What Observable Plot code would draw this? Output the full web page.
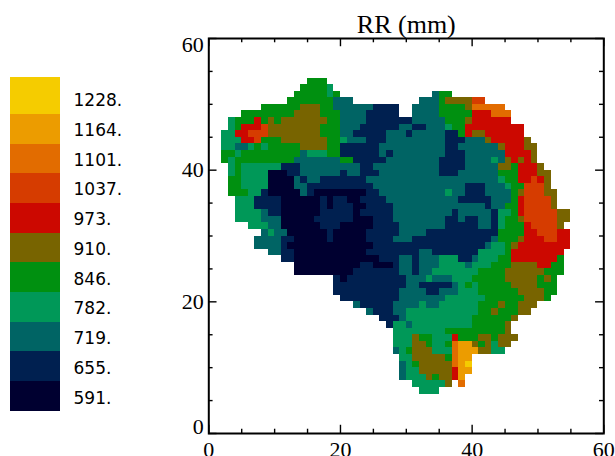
<!DOCTYPE html>
<html>
<head>
<meta charset="utf-8">
<script src="https://cdn.jsdelivr.net/npm/d3@7"></script>
<script src="https://cdn.jsdelivr.net/npm/@observablehq/plot@0.6"></script>
<style>
html,body{margin:0;padding:0;background:#fff;overflow:hidden}
#wrap{position:relative;width:615px;height:456px;overflow:hidden}
#wrap svg{position:absolute;left:0;top:0;background:transparent;max-width:none}
</style>
</head>
<body>
<div id="wrap"></div>
<script>
const title = "RR (mm)";
const levels = [591,655,719,782,846,910,973,1037,1101,1164,1228];
const levelTop = 1307;
const levelCodes = ["a","b","c","d","e","f","g","h","i","j","k"];
const colors = ["#000030","#002050","#006464","#009858","#009010","#786400","#cc0800","#d63c00","#e26c00","#ec9c00","#f5cc00"];
const majorTicks = [0,20,40,60];
const minorTicks = [5,10,15,25,30,35,45,50,55];
// one line per grid row, top to bottom: level code + first-last column
const rowNumbers = [53,52,51,50,49,48,47,46,45,44,43,42,41,40,39,38,37,36,35,34,33,32,31,30,29,28,27,26,25,24,23,22,21,20,19,18,17,16,15,14,13,12,11,10,9,8,7,6];
const rowRuns = [
"e15-17",
"e14-17 d18",
"e13-17 d18 e19 c34 e35-36",
"e12-18 c19-21 c32-34 e35 f36-39 h40-41",
"e8-13 f14-16 e17-18 c19-24 b25-28 c31-34 e35-38 f39 i40-44",
"e5-12 f13-16 e17-19 c20-23 b24-28 c31-34 e35-39 g40-42 i43-45",
"d3 e4-6 g7 e8 f9 e10 f11-17 e18-19 c20-23 b24-30 c31-35 e36-38 f39 g40-45",
"d3 e4 g5-7 h8 f9-16 e17-19 c20-22 b23-28 c29-30 b31-32 c33-35 d36 e37-38 g39-47",
"d2-3 g4-5 h6-8 f9-16 e17-19 c20-21 b22-26 c27-29 b30 c31-35 b36-37 e38 g39 f40-41 g42-47",
"d2-4 g5-6 h7 e8-10 f11-17 e18-19 d20 c21-23 b24-26 c27-35 b36-38 c39-41 f42 g43-47 f48",
"d2-3 c4-5 d6 e7 d8 e9-13 f14-17 e18-19 b20-25 c26-35 b36-37 c38-43 f44 g45-47 f48-49",
"e2-3 d4 e5-13 c14 d15-17 e18-19 b20-25 c26 b27 c28-35 b36-38 c39-44 g45-48 f49",
"e2 d3 e4-12 c13-19 e20-21 b22-26 c27-34 b35-38 c39-42 d43 c44 f45 g46 f47 g48 f49",
"d3 e4 d5-10 b11-13 c14-22 b23-24 c25-34 b35-38 c39-43 f44-45 e46 g47-49 f50",
"d3 e4 d5-8 a9-11 b12-13 c14-19 b20 c21-22 b23-25 c26-34 b35-37 c38-43 e44-46 g47-49 f50-51",
"e3-4 d5-8 a9-12 c13 b14 c15-16 b17-23 c24-43 d44 e45-46 g47-48 h49 g50 f51",
"e3-4 d5-8 a9-12 c13-14 b15-24 c25-38 b39-41 c42-44 d45 e46-47 h48-50 f51",
"e3-5 d6-7 b8 a9-13 c14 b15 a16-23 b24-25 c26-35 d36 c37-38 b39-41 c42-45 e46 f47 h48-50 f51-52",
"d4-6 b7-10 a11-16 b17 a18 b19-20 a21-22 b23-26 c27-37 b38-42 c43-45 e46 g47 h48-51 f52",
"d4-6 b7-10 a11-16 b17 a18 b19-21 a22-23 b24-27 c28-41 b42 c43-44 e45-46 g47 h48-51 f52",
"d4-7 c8 b9-10 a11-16 b17-21 a22 b23-27 c28-36 b37 c38-42 b43 d44-45 e46 g47 h48-52 f53-54",
"d4-7 c8-10 a11-15 b16-21 a22-24 b25-27 c28-35 b36-37 c38 b39-40 c41-42 b43 d44 e45-46 f47 h48-52 f53-54",
"d6-8 c9-10 a11-16 b17-19 a20-24 b25-28 c29-35 b36-40 c41-42 b43 d44 e45-47 g48 h49-52 f53",
"c8 d9 c10-11 a12-17 b18 a19-23 b24-28 c29-32 b33-43 e44-47 g48-49 h50-52 g53-54",
"c7-10 b11-12 a13-17 b18 a19-23 b24-27 c28-30 b31-42 c43 e44-46 f47 g48-50 h51-52 g53-54",
"c7-10 b11 a12-24 b25-41 c42 d43-44 e45 f46 g47-54",
"c9-10 b11-12 a13-23 b24-31 c32-33 b34-40 d41-44 e45 g46-53",
"b11-12 a13-25 b26-28 c29-30 b31 c32-34 d35-37 b38-39 c40 d41-43 e44-45 g46-52 e53",
"a13-22 b23-24 a25-27 b28 c29-30 b31 c32-34 d35-38 c39 d40-42 e43-45 f46-49 g50-51 e52-53",
"a13-21 b22-28 c29-30 b31 c32-33 d34-40 e41-44 f45-50 e51-53",
"b19 a20 b21-29 c30-32 d33 c34-36 d37-39 e40-44 f45-49 e50 f51 e52",
"b19-29 c30-31 b32-36 c37 d38 e39 d40 e41-45 f46-49 e50-52",
"b19-28 c29-32 b33-34 c35-37 d38-40 e41-46 f47-50 e51-52",
"b20-28 c29-35 d36-41 e42-47 f48-50 e51",
"c22 b23-27 c28-31 d32 c33-34 d35-40 e41-43 f44 e45-46 f47-49",
"c24 b25-27 c28-29 d30-40 e41-42 f43 e44-46 f47-48",
"b26-28 c29 d30-39 e40-45 f46",
"b27 d28-29 c30 d31-39 e40-44 f45",
"d28-35 e36-44 f45",
"d28-30 f31 e32-33 d34-36 g37 e38-40 f41-42 e43 f44-46",
"d28-30 f31-32 e33 d34-35 e36 i37 j38-39 f40 e41 f42 d43 f44-45",
"c28 d29 e30 f31-33 d34-36 i37 j38-40 f41-42 d43-44",
"d29-30 f31-35 e36 i37 j38-39",
"c29 d30 e31 f32-36 i37 j38 k39",
"c29 d30-31 f32-36 g37 j38-39",
"c29 d30-32 f33 e34 f35-36 g37 j38",
"d31-35 f36 i38",
"d32-34"
];

const cells = [];
rowRuns.forEach((line, i) => {
  for (const run of line.split(" ")) {
    const code = run[0];
    const [a, b] = run.slice(1).split("-").map(Number);
    for (let c = a; c <= (b ?? a); c++) {
      cells.push({col: c, row: rowNumbers[i], value: levels[levelCodes.indexOf(code)]});
    }
  }
});

const ink = "#000";
const serif = "'Liberation Serif','Times New Roman',serif";
const tickStyle = {stroke: ink, strokeWidth: 1.4};
const main = Plot.plot({
  width: 615, height: 456,
  marginLeft: 208.3, marginRight: 11.7, marginTop: 38, marginBottom: 23,
  style: {background: "transparent"},
  x: {domain: [0, 60], axis: null},
  y: {domain: [0, 60], axis: null},
  color: {type: "ordinal", domain: levels, range: colors},
  marks: [
    Plot.rect(cells, {x1: "col", x2: d => d.col + 1, y1: "row", y2: d => d.row + 1, fill: "value", shapeRendering: "crispEdges"}),
    Plot.ruleX(majorTicks, {x: d => d, y1: 0, y2: 1.25, ...tickStyle}),
    Plot.ruleX(minorTicks, {x: d => d, y1: 0, y2: 0.65, ...tickStyle}),
    Plot.ruleX(majorTicks, {x: d => d, y1: 60, y2: 58.75, ...tickStyle}),
    Plot.ruleX(minorTicks, {x: d => d, y1: 60, y2: 59.35, ...tickStyle}),
    Plot.ruleY(majorTicks, {y: d => d, x1: 0, x2: 1.25, ...tickStyle}),
    Plot.ruleY(minorTicks, {y: d => d, x1: 0, x2: 0.65, ...tickStyle}),
    Plot.ruleY(majorTicks, {y: d => d, x1: 60, x2: 58.75, ...tickStyle}),
    Plot.ruleY(minorTicks, {y: d => d, x1: 60, x2: 59.35, ...tickStyle}),
    Plot.frame({stroke: ink, strokeWidth: 2}),
    Plot.text(majorTicks, {x: d => d, frameAnchor: "bottom", dy: 23, text: d => String(d), lineAnchor: "bottom", fontFamily: serif, fontSize: 22, fill: ink}),
    Plot.text([60], {frameAnchor: "top-left", dx: -5, dy: -2, text: d => String(d), textAnchor: "end", lineAnchor: "top", fontFamily: serif, fontSize: 22, fill: ink}),
    Plot.text([40, 20], {y: d => d, frameAnchor: "left", dx: -5, text: d => String(d), textAnchor: "end", fontFamily: serif, fontSize: 22, fill: ink}),
    Plot.text([0], {frameAnchor: "bottom-left", dx: -5, text: d => String(d), textAnchor: "end", lineAnchor: "bottom", fontFamily: serif, fontSize: 22, fill: ink}),
    Plot.text([title], {x: 30, frameAnchor: "top", dy: -6, text: d => d, lineAnchor: "bottom", fontFamily: serif, fontSize: 26, fill: ink})
  ]
});

const edges = levels.map((v, i) => ({v, next: i < levels.length - 1 ? levels[i + 1] : levelTop}));
const legend = Plot.plot({
  width: 615, height: 456,
  marginLeft: 10, marginRight: 555, marginTop: 77, marginBottom: 45,
  style: {background: "transparent", overflow: "visible"},
  x: {domain: [0, 1], axis: null},
  y: {domain: [levels[0], levelTop], axis: null},
  color: {type: "ordinal", domain: levels, range: colors},
  marks: [
    Plot.rect(edges, {x1: 0, x2: 1, y1: "v", y2: "next", fill: "v", shapeRendering: "crispEdges"}),
    Plot.text(levels, {x: 1, dx: 13, dy: 1.5, y: d => d + 32, text: d => d + ".", textAnchor: "start", fontFamily: "'DejaVu Sans',sans-serif", fontSize: 17, fill: "#000", style: {letterSpacing: "0.2px"}})
  ]
});
legend.style.overflow = "visible";
main.style.overflow = "visible";
const wrap = document.getElementById("wrap");
wrap.append(main, legend);
</script>
</body>
</html>
